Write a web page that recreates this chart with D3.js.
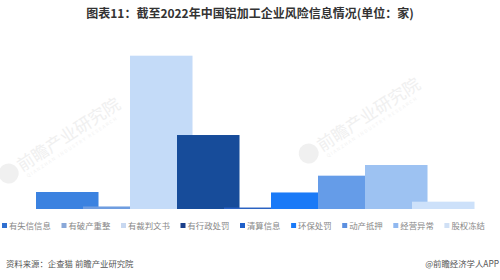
<!DOCTYPE html>
<html><head><meta charset="utf-8">
<script src="https://cdn.jsdelivr.net/npm/d3@7/dist/d3.min.js"></script>
<style>html,body{margin:0;padding:0;background:#fff;}svg{display:block;font-family:"Noto Sans CJK SC","Noto Sans",sans-serif;}</style>
</head><body>
<script>
const categories = ["有失信信息","有破产重整","有裁判文书","有行政处罚","清算信息","环保处罚","动产抵押","经营异常","股权冻结"];
const values = [255, 38, 2300, 1110, 22, 248, 500, 660, 110];
const barColors = ["#3b82e0","#6f9de0","#c4dbf8","#174c9a","#2a62c2","#1a7af7","#659ce8","#9dc2f2","#cde1fa"];
const legendColors = ["#2f6fd0","#8aa8d8","#c8d8f0","#1a3f8a","#1f5fc8","#1a7af8","#5c90e0","#90b8f0","#d0e0f5"];

const W = 500, H = 280;
const svg = d3.select("body").append("svg").attr("width", W).attr("height", H);

// faint watermarks
const wm = [
  {x: 22, y: 172, s: 17},
  {x: 322, y: 152, s: 17}
];
const wg = svg.append("g");
wm.forEach(w => {
  const g = wg.append("g").attr("transform", `translate(${w.x},${w.y}) rotate(-33)`);
  g.append("circle").attr("cx", -12).attr("cy", -6).attr("r", 10).attr("fill", "#f0f0f0");
  g.append("text").attr("x", 0).attr("y", 0).attr("font-size", w.s).attr("fill", "#f0f0f0").text("前瞻产业研究院");
  g.append("text").attr("x", 2).attr("y", 8).attr("font-size", 4.5).attr("fill", "#f2f2f2").attr("letter-spacing", 1.5).text("QIANZHAN INDUSTRY RESEARCH");
});

// title
svg.append("text").attr("x", 250).attr("y", 18).attr("text-anchor", "middle")
  .attr("font-size", 12).attr("font-weight", "bold").attr("fill", "#333")
  .text("图表11：截至2022年中国铝加工企业风险信息情况(单位：家)");

const x = d3.scaleBand().domain(categories).range([36, 36 + 47 * categories.length]).padding(0);
const barW = x.bandwidth() * 1.33;
const y = d3.scaleLinear().domain([0, 2300]).range([209, 55.7]);

svg.append("g").selectAll("rect").data(categories).join("rect")
  .attr("x", d => x(d))
  .attr("y", (d, i) => y(values[i]))
  .attr("width", barW)
  .attr("height", (d, i) => y(0) - y(values[i]))
  .attr("fill", (d, i) => barColors[i]);

// legend
const lg = svg.append("g").attr("transform", "translate(2,228)");
let lx = 0;
categories.forEach((c, i) => {
  const g = lg.append("g").attr("transform", `translate(${lx},0)`);
  g.append("rect").attr("x", 0).attr("y", -5).attr("width", 5).attr("height", 5).attr("fill", legendColors[i]);
  g.append("text").attr("x", 7).attr("y", 0.5).attr("font-size", 8.4).attr("fill", "#888").text(c);
  lx += 7 + c.length * 8.4 + 10.5;
});

// footer
svg.append("text").attr("x", 6).attr("y", 267).attr("font-size", 8.4).attr("fill", "#555")
  .text("资料来源：企查猫 前瞻产业研究院");
svg.append("text").attr("x", 499).attr("y", 267).attr("text-anchor", "end").attr("font-size", 8.4).attr("fill", "#555")
  .text("@前瞻经济学人APP");
</script>
</body></html>
